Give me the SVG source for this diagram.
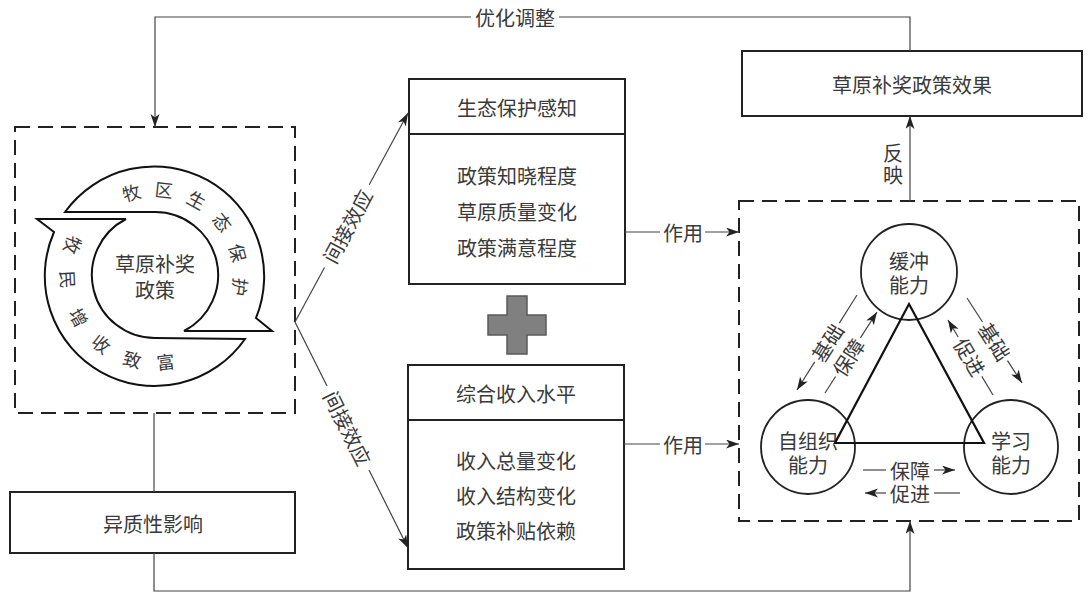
<svg xmlns="http://www.w3.org/2000/svg" width="1089" height="594" viewBox="0 0 1089 594">
<style>
text{font-family:"Noto Sans CJK SC","Noto Sans CJK TC",sans-serif;fill:#3a3a3a;font-size:20px;text-anchor:middle;dominant-baseline:central}
.arc{font-size:18px}
.box{fill:#fff;stroke:#222;stroke-width:2}
.dash{fill:none;stroke:#222;stroke-width:2;stroke-dasharray:15 8}
.ln{fill:none;stroke:#444;stroke-width:1.2}
.arw{marker-end:url(#ah)}
.ring{fill:#fff;stroke:#111;stroke-width:2;stroke-linejoin:miter}
.cir{fill:#fff;stroke:#222;stroke-width:1.8}
</style>
<defs>
<marker id="ah" markerUnits="userSpaceOnUse" markerWidth="14" markerHeight="10" refX="13" refY="4.5" orient="auto">
<path d="M0,0 L13,4.5 L0,9 L3.5,4.5 Z" fill="#222"/>
</marker>
</defs>
<rect width="1089" height="594" fill="#fff"/>

<g id="policy">
<rect class="dash" x="15" y="127" width="280" height="286"/>
<path class="ring" d="M65,212 A110,110 0 0 1 256,318 L272,331 L184,331 A63,63 0 0 0 155,212 Z"/>
<path class="ring" d="M245,339 A110,110 0 0 1 54,232 L37,219 L126,219 A63,63 0 0 0 155,338 Z"/>
<circle cx="155" cy="275" r="63" fill="none" stroke="none"/>
<text x="155" y="263">草原补奖</text>
<text x="155" y="289">政策</text>
<text class="arc" transform="translate(131.2,191.8) rotate(-16)">牧</text>
<text class="arc" transform="translate(164,189) rotate(6)">区</text>
<text class="arc" transform="translate(196.9,199.3) rotate(29)">生</text>
<text class="arc" transform="translate(223.2,221.7) rotate(52)">态</text>
<text class="arc" transform="translate(238.6,252.6) rotate(75)">保</text>
<text class="arc" transform="translate(240.7,287) rotate(98)">护</text>
<text class="arc" transform="translate(73.7,245.4) rotate(110)">牧</text>
<text class="arc" transform="translate(68.6,279.5) rotate(87)">民</text>
<text class="arc" transform="translate(79.3,316.9) rotate(61)">增</text>
<text class="arc" transform="translate(101.7,343.2) rotate(38)">收</text>
<text class="arc" transform="translate(132.6,358.6) rotate(15)">致</text>
<text class="arc" transform="translate(165.5,360.9) rotate(-7)">富</text>
</g>

<g id="hetero">
<rect class="box" x="10" y="492" width="285" height="61"/>
<text x="153" y="523">异质性影响</text>
</g>

<g id="eco">
<rect class="box" x="409" y="79" width="216" height="205"/>
<line x1="409" y1="134" x2="625" y2="134" stroke="#222" stroke-width="2"/>
<text x="517" y="107">生态保护感知</text>
<text x="517" y="175">政策知晓程度</text>
<text x="517" y="211">草原质量变化</text>
<text x="517" y="247">政策满意程度</text>
</g>

<g id="plus">
<polygon points="507,296 527,296 527,315 546,315 546,335 527,335 527,354 507,354 507,335 488,335 488,315 507,315" fill="#808080" stroke="#5a5a5a" stroke-width="1.5"/>
</g>

<g id="income">
<rect class="box" x="408" y="365" width="216" height="204"/>
<line x1="408" y1="420" x2="624" y2="420" stroke="#222" stroke-width="2"/>
<text x="516" y="393">综合收入水平</text>
<text x="516" y="460">收入总量变化</text>
<text x="516" y="495">收入结构变化</text>
<text x="516" y="530">政策补贴依赖</text>
</g>

<g id="effect">
<rect class="box" x="742" y="51" width="340" height="65"/>
<text x="912" y="84">草原补奖政策效果</text>
</g>

<g id="resilience">
<rect class="dash" x="739" y="201" width="340" height="320"/>
</g>
<g id="buffer">
<circle class="cir" cx="909" cy="272" r="48"/>
<text x="909" y="260">缓冲</text>
<text x="909" y="284">能力</text>
</g>
<g id="selforg">
<circle class="cir" cx="808" cy="447" r="47"/>
<text x="808" y="440">自组织</text>
<text x="808" y="464">能力</text>
</g>
<g id="learn">
<circle class="cir" cx="1011" cy="447" r="47"/>
<text x="1011" y="440">学习</text>
<text x="1011" y="464">能力</text>
</g>
<g id="triangle">
<polygon points="909,304 984,443 835,443" fill="none" stroke="#111" stroke-width="2.2"/>
</g>

<g id="connectors">
<!-- optimize loop -->
<polyline class="ln" points="910,51 910,17 559,17"/>
<polyline class="ln arw" points="471,17 155,17 155,127"/>
<text x="515" y="17">优化调整</text>
<!-- reflect -->
<line class="ln arw" x1="910" y1="201" x2="910" y2="116"/>
<text x="893" y="152">反</text>
<text x="893" y="174">映</text>
<!-- indirect effects -->
<line class="ln" x1="295" y1="322" x2="324.5" y2="267.5"/>
<line class="ln arw" x1="369.2" y1="184.8" x2="408" y2="113"/>
<text transform="translate(347,226) rotate(-61.6)">间接效应</text>
<line class="ln" x1="295" y1="322" x2="327" y2="386"/>
<line class="ln arw" x1="369" y1="470" x2="408" y2="548"/>
<text transform="translate(348,428) rotate(63.4)">间接效应</text>
<!-- act -->
<line class="ln" x1="625" y1="232" x2="660" y2="232"/>
<line class="ln arw" x1="705" y1="232" x2="739" y2="232"/>
<text x="683" y="232">作用</text>
<line class="ln" x1="624" y1="444" x2="660" y2="444"/>
<line class="ln arw" x1="705" y1="444" x2="739" y2="444"/>
<text x="683" y="444">作用</text>
<!-- hetero -->
<line class="ln" x1="154" y1="413" x2="154" y2="492"/>
<polyline class="ln arw" points="154,553 154,591 910,591 910,521"/>
<!-- triangle labels -->
<line class="ln" x1="857" y1="295" x2="839.3" y2="323.1"/>
<line class="ln arw" x1="814.7" y1="361.9" x2="797" y2="390"/>
<text transform="translate(827,342.5) rotate(-57.7)">基础</text>
<line class="ln" x1="825" y1="393" x2="835.6" y2="376.5"/>
<line class="ln arw" x1="860.4" y1="337.9" x2="877" y2="312"/>
<text transform="translate(848,357.2) rotate(-57.3)">保障</text>
<line class="ln" x1="967" y1="298" x2="982.5" y2="322"/>
<line class="ln arw" x1="1007.5" y1="360.6" x2="1022" y2="383"/>
<text transform="translate(995,341.3) rotate(57.1)">基础</text>
<line class="ln" x1="993" y1="395" x2="981.8" y2="376.4"/>
<line class="ln arw" x1="958.2" y1="337" x2="948" y2="320"/>
<text transform="translate(970,356.7) rotate(59)">促进</text>
<line class="ln" x1="863" y1="470" x2="886" y2="470"/>
<line class="ln arw" x1="934" y1="470" x2="955" y2="470"/>
<text x="910" y="470">保障</text>
<line class="ln arw" x1="886" y1="493" x2="865" y2="493"/>
<line class="ln" x1="934" y1="493" x2="960" y2="493"/>
<text x="910" y="493">促进</text>
</g>
</svg>
